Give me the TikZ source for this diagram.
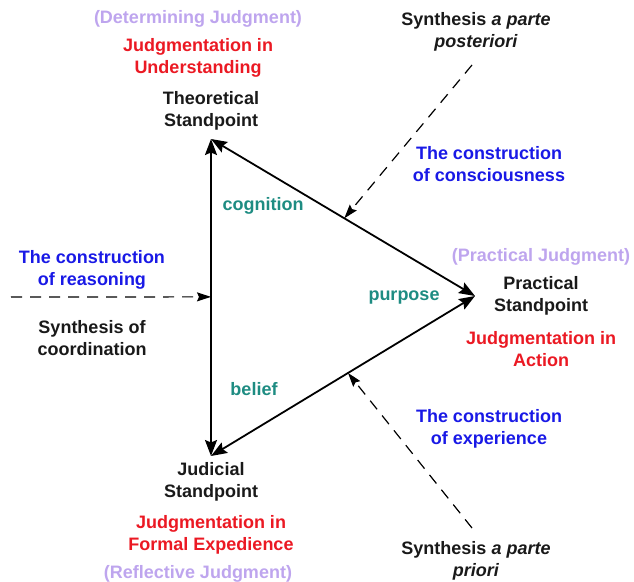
\documentclass[tikz,border=0pt]{standalone}
\usepackage{fontspec}
\setmainfont{Liberation Sans}
\usetikzlibrary{arrows.meta,calc}
\definecolor{lav}{RGB}{190,165,238}
\definecolor{jred}{RGB}{235,25,35}
\definecolor{cblue}{RGB}{25,25,230}
\definecolor{teal2}{RGB}{30,140,130}
\definecolor{ink}{RGB}{25,25,25}
\tikzset{
  lbl/.style={inner sep=0pt, align=center, font=\fontsize{18}{22}\selectfont\bfseries},
  stand/.style={lbl, text=ink},
  judg/.style={lbl, text=jred},
  kind/.style={lbl, text=lav},
  constr/.style={lbl, text=cblue},
  rel/.style={lbl, text=teal2},
  edge/.style={line width=1.8pt, draw=black, {Stealth[length=16pt,width=12pt,inset=2.5pt]}-{Stealth[length=16pt,width=12pt,inset=2.5pt]}},
  synth/.style={line width=1.2pt, draw=black, dash pattern=on 11pt off 8pt, -{Stealth[length=14pt,width=9pt,inset=2pt]}}
}
\begin{document}
\begin{tikzpicture}[x=1pt,y=-1pt]
\useasboundingbox (0,0) rectangle (634,581);
% vertices
\coordinate (T) at (211,139);
\coordinate (R) at (475,296);
\coordinate (B) at (211,456);
% edges
\draw[edge] (T) -- (R);
\draw[edge] (R) -- (B);
\draw[edge] (T) -- (B);
% points on edges
\coordinate (pTR) at ($(T)!0.505!(R)$);
\coordinate (pRB) at ($(R)!0.481!(B)$);
\coordinate (pTB) at ($(T)!0.498!(B)$);
% dashed starts
\coordinate (sTop) at (472,65);
\coordinate (sBot) at (472,528);
\coordinate (sLeft) at (11,297);
\draw[synth] (sTop) -- (pTR);
\draw[synth] (sBot) -- (pRB);
\draw[synth] (sLeft) -- (pTB);
% top
\node[kind] (detj) at (198,19) {(Determining Judgment)};
\node[judg] (jund) at (198,58) {Judgmentation in\\Understanding};
\node[stand] (theo) at (211,111) {Theoretical\\Standpoint};
% right
\node[kind] (pracj) at (541,257) {(Practical Judgment)};
\node[stand] (prac) at (541,296) {Practical\\Standpoint};
\node[judg] (jact) at (541,349) {Judgmentation in\\Action};
% bottom
\node[stand] (judi) at (211,482) {Judicial\\Standpoint};
\node[judg] (jfor) at (211,535) {Judgmentation in\\Formal Expedience};
\node[kind] (refj) at (198,574) {(Reflective Judgment)};
% relations
\node[rel] (cog) at (263,206) {cognition};
\node[rel] (pur) at (404,298) {purpose};
\node[rel] (bel) at (254,389) {belief};
% constructions
\node[constr] (ccons) at (489,164) {The construction\\of consciousness};
\node[constr] (creas) at (92,270) {The construction\\of reasoning};
\node[constr] (cexp) at (489,429) {The construction\\of experience};
% syntheses
\node[stand] (spost) at (476,32) {Synthesis \textit{a parte}\\\textit{posteriori}};
\node[stand] (scoor) at (92,338) {Synthesis of\\coordination};
\node[stand] (sprio) at (476,561) {Synthesis \textit{a parte}\\\textit{priori}};
\end{tikzpicture}
\end{document}
